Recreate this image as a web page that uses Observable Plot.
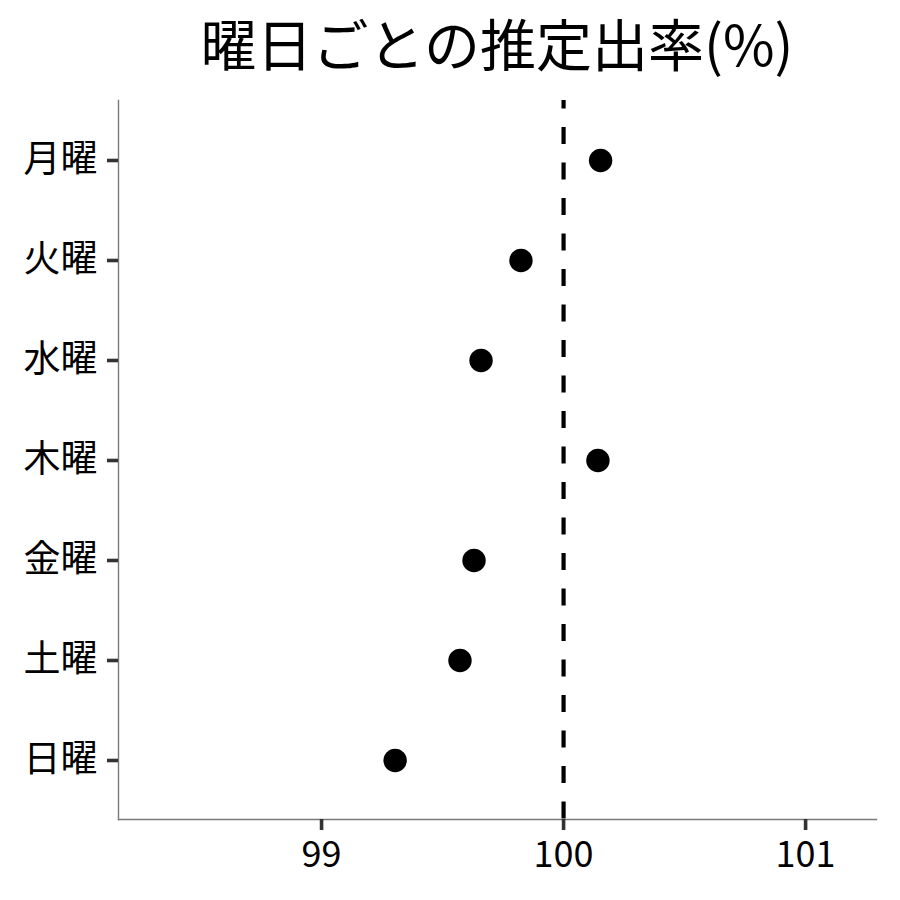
<!DOCTYPE html>
<html>
<head>
<meta charset="utf-8">
<script src="https://cdn.jsdelivr.net/npm/d3@7"></script>
<script src="https://cdn.jsdelivr.net/npm/@observablehq/plot@0.6"></script>
<style>
  body { margin: 0; background: #fff; font-family: "Noto Sans CJK JP", sans-serif; }
  #title { height: 90px; box-sizing: border-box; padding-left: 118px; padding-right: 24px; text-align: center;
           font-size: 56px; line-height: 83px; color: #000; white-space: nowrap; }
  g[aria-label="x-axis tick"] path, g[aria-label="y-axis tick"] path { stroke: #333 !important; stroke-width: 3.6px !important; }
</style>
</head>
<body>
<div id="title">曜日ごとの推定出率(%)</div>
<div id="chart"></div>
<script>
const days = ["月曜", "火曜", "水曜", "木曜", "金曜", "土曜", "日曜"];
const rates = [100.153, 99.824, 99.659, 100.142, 99.630, 99.572, 99.304];
const xTicks = [99, 100, 101];
const xTickLabels = ["99", "100", "101"];
const xDomain = [98.161, 101.293];
const refValue = [100];

const data = days.map((d, i) => ({day: d, rate: rates[i]}));

const chart = Plot.plot({
  width: 900,
  height: 810,
  marginTop: 10,
  marginBottom: 81,
  marginLeft: 118,
  marginRight: 24,
  style: {fontFamily: '"Noto Sans CJK JP", sans-serif', fontSize: "37px", color: "#000", background: "#fff"},
  x: {domain: xDomain, ticks: xTicks, label: null},
  y: {domain: days, type: "point", padding: 0.595, label: null},
  marks: [
    Plot.ruleX(refValue, {stroke: "#000", strokeWidth: 4.2, strokeDasharray: "17,18.5", strokeDashoffset: 8.5}),
    Plot.frame({anchor: "left", stroke: "#7a7a7a", strokeWidth: 1.4}),
    Plot.frame({anchor: "bottom", stroke: "#7a7a7a", strokeWidth: 1.4}),
    Plot.axisX({ticks: xTicks, tickFormat: (d) => xTickLabels[xTicks.indexOf(d)], tickSize: 11, tickPadding: 11, stroke: "#333", strokeWidth: 3.6, fill: "#000", fontSize: 36, label: null}),
    Plot.axisY({tickSize: 11, tickPadding: 10, stroke: "#333", strokeWidth: 3.6, fill: "#000", fontSize: 37, label: null}),
    Plot.dot(data, {x: "rate", y: "day", r: 11.7, fill: "#000", stroke: "none"})
  ]
});
document.getElementById("chart").appendChild(chart);
</script>
</body>
</html>
